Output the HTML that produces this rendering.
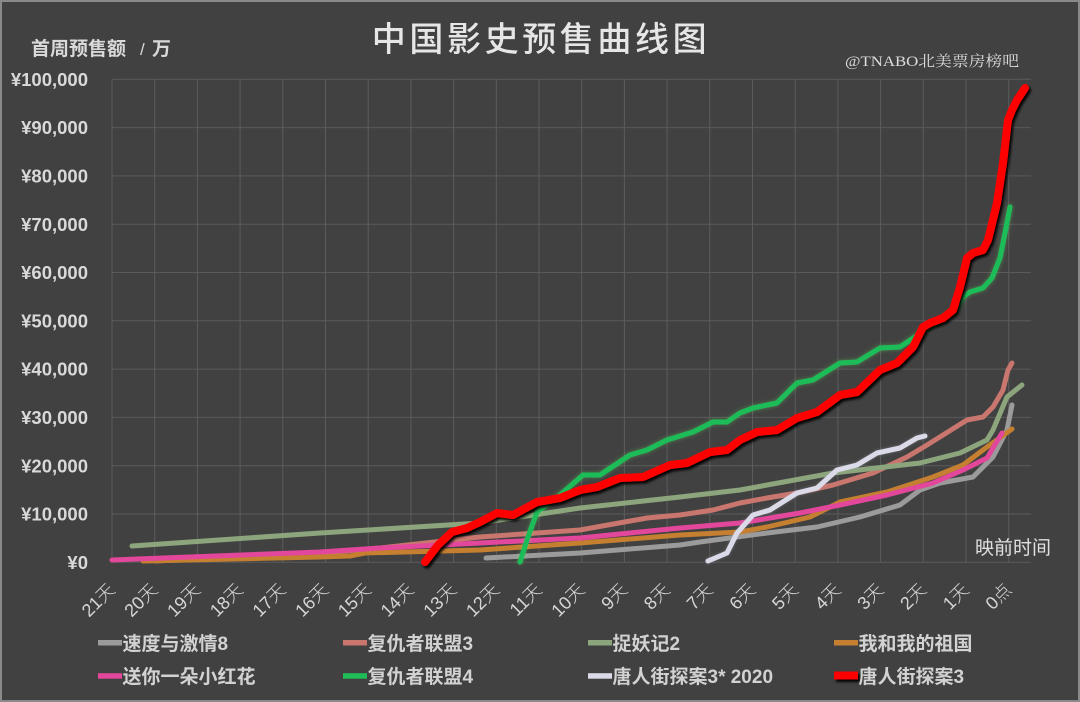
<!DOCTYPE html>
<html>
<head>
<meta charset="utf-8">
<style>
html,body{margin:0;padding:0;background:#414141;}
svg{display:block;}
.yl{font-family:"Liberation Sans","Noto Sans CJK SC",sans-serif;font-weight:bold;font-size:18.5px;fill:#d9d9d9;}
.xl{font-family:"Liberation Sans","Noto Sans CJK SC",sans-serif;font-weight:300;font-size:18px;fill:#d6d6d6;}
.lg{font-family:"Liberation Sans","Noto Sans CJK SC",sans-serif;font-weight:bold;font-size:19px;fill:#d2d2d2;}
</style>
</head>
<body>
<svg width="1080" height="702" viewBox="0 0 1080 702" xmlns="http://www.w3.org/2000/svg">
<defs>
<filter id="rsh" filterUnits="userSpaceOnUse" x="0" y="0" width="1080" height="702">
<feDropShadow dx="2" dy="2.5" stdDeviation="1.3" flood-color="#000" flood-opacity="0.95"/>
</filter>
<filter id="gglow" filterUnits="userSpaceOnUse" x="0" y="0" width="1080" height="702">
<feDropShadow dx="0" dy="0" stdDeviation="2" flood-color="#6f6" flood-opacity="0.35"/>
</filter>
<filter id="wglow" filterUnits="userSpaceOnUse" x="0" y="0" width="1080" height="702">
<feDropShadow dx="0" dy="0" stdDeviation="1.5" flood-color="#aab" flood-opacity="0.4"/>
</filter>
</defs>
<rect x="0" y="0" width="1080" height="702" fill="#414141"/>
<rect x="1" y="1" width="1078" height="700" fill="none" stroke="#8a8a8a" stroke-width="2"/>

<!-- title -->
<text x="541" y="51" text-anchor="middle" font-family="'Liberation Sans','Noto Sans CJK SC',sans-serif" font-size="34" font-weight="500" letter-spacing="3.6" fill="#e6e6e6">中国影史预售曲线图</text>
<text x="31" y="55" font-family="'Liberation Sans','Noto Sans CJK SC',sans-serif" font-size="19" font-weight="bold" fill="#d9d9d9">首周预售额</text>
<text x="140" y="55" font-family="'Liberation Sans','Noto Sans CJK SC',sans-serif" font-size="17" fill="#d9d9d9">/</text>
<text x="152" y="55" font-family="'Liberation Sans','Noto Sans CJK SC',sans-serif" font-size="19" font-weight="bold" fill="#d9d9d9">万</text>
<text x="845" y="66" textLength="174" lengthAdjust="spacingAndGlyphs" font-family="'Liberation Serif','Noto Serif CJK SC',serif" font-size="15" fill="#dcdcdc">@TNABO北美票房榜吧</text>

<!-- gridlines -->
<g stroke="#5a5a5a" stroke-width="1">
<line x1="112" y1="79.3" x2="1031" y2="79.3"/>
<line x1="112" y1="127.6" x2="1031" y2="127.6"/>
<line x1="112" y1="175.9" x2="1031" y2="175.9"/>
<line x1="112" y1="224.2" x2="1031" y2="224.2"/>
<line x1="112" y1="272.5" x2="1031" y2="272.5"/>
<line x1="112" y1="320.8" x2="1031" y2="320.8"/>
<line x1="112" y1="369.1" x2="1031" y2="369.1"/>
<line x1="112" y1="417.4" x2="1031" y2="417.4"/>
<line x1="112" y1="465.7" x2="1031" y2="465.7"/>
<line x1="112" y1="514" x2="1031" y2="514"/>
<line x1="112" y1="562.3" x2="1031" y2="562.3"/>
</g>
<g stroke="#5c5c5c" stroke-width="1">
<line x1="112" y1="79.3" x2="112" y2="562.3"/>
<line x1="154.7" y1="79.3" x2="154.7" y2="562.3"/>
<line x1="197.4" y1="79.3" x2="197.4" y2="562.3"/>
<line x1="240.1" y1="79.3" x2="240.1" y2="562.3"/>
<line x1="282.8" y1="79.3" x2="282.8" y2="562.3"/>
<line x1="325.5" y1="79.3" x2="325.5" y2="562.3"/>
<line x1="368.2" y1="79.3" x2="368.2" y2="562.3"/>
<line x1="410.9" y1="79.3" x2="410.9" y2="562.3"/>
<line x1="453.6" y1="79.3" x2="453.6" y2="562.3"/>
<line x1="496.3" y1="79.3" x2="496.3" y2="562.3"/>
<line x1="539" y1="79.3" x2="539" y2="562.3"/>
<line x1="581.7" y1="79.3" x2="581.7" y2="562.3"/>
<line x1="624.4" y1="79.3" x2="624.4" y2="562.3"/>
<line x1="667.1" y1="79.3" x2="667.1" y2="562.3"/>
<line x1="709.8" y1="79.3" x2="709.8" y2="562.3"/>
<line x1="752.5" y1="79.3" x2="752.5" y2="562.3"/>
<line x1="795.2" y1="79.3" x2="795.2" y2="562.3"/>
<line x1="837.9" y1="79.3" x2="837.9" y2="562.3"/>
<line x1="880.6" y1="79.3" x2="880.6" y2="562.3"/>
<line x1="923.3" y1="79.3" x2="923.3" y2="562.3"/>
<line x1="966" y1="79.3" x2="966" y2="562.3"/>
<line x1="1008.7" y1="79.3" x2="1008.7" y2="562.3"/>
</g>

<!-- y labels -->
<g class="yl" text-anchor="end">
<text x="88" y="85.9">¥100,000</text>
<text x="88" y="134.2">¥90,000</text>
<text x="88" y="182.5">¥80,000</text>
<text x="88" y="230.8">¥70,000</text>
<text x="88" y="279.1">¥60,000</text>
<text x="88" y="327.4">¥50,000</text>
<text x="88" y="375.7">¥40,000</text>
<text x="88" y="424">¥30,000</text>
<text x="88" y="472.3">¥20,000</text>
<text x="88" y="520.6">¥10,000</text>
<text x="88" y="568.9">¥0</text>
</g>

<!-- x labels -->
<g class="xl" text-anchor="end">
<text transform="translate(116,591) rotate(-45)">21天</text>
<text transform="translate(158.7,591) rotate(-45)">20天</text>
<text transform="translate(201.4,591) rotate(-45)">19天</text>
<text transform="translate(244.1,591) rotate(-45)">18天</text>
<text transform="translate(286.8,591) rotate(-45)">17天</text>
<text transform="translate(329.5,591) rotate(-45)">16天</text>
<text transform="translate(372.2,591) rotate(-45)">15天</text>
<text transform="translate(414.9,591) rotate(-45)">14天</text>
<text transform="translate(457.6,591) rotate(-45)">13天</text>
<text transform="translate(500.3,591) rotate(-45)">12天</text>
<text transform="translate(543,591) rotate(-45)">11天</text>
<text transform="translate(585.7,591) rotate(-45)">10天</text>
<text transform="translate(628.4,591) rotate(-45)">9天</text>
<text transform="translate(671.1,591) rotate(-45)">8天</text>
<text transform="translate(713.8,591) rotate(-45)">7天</text>
<text transform="translate(756.5,591) rotate(-45)">6天</text>
<text transform="translate(799.2,591) rotate(-45)">5天</text>
<text transform="translate(841.9,591) rotate(-45)">4天</text>
<text transform="translate(884.6,591) rotate(-45)">3天</text>
<text transform="translate(927.3,591) rotate(-45)">2天</text>
<text transform="translate(970,591) rotate(-45)">1天</text>
<text transform="translate(1012.7,591) rotate(-45)">0点</text>
</g>
<text x="975" y="554" font-family="'Liberation Sans','Noto Sans CJK SC',sans-serif" font-size="19" fill="#e0e0e0">映前时间</text>

<!-- series -->
<g fill="none" stroke-linejoin="round" stroke-linecap="round">
<polyline stroke="#9b9b9b" stroke-width="5" points="486,558 580,553 680,545 700,542 767,533 817,527 860,517 900,505 920,490 940,483 973,477 993,457 1007,430 1012,405"/>
<polyline stroke="#c9766f" stroke-width="5" points="155,561 300,555 380,548 480,537 580,530 647,518 680,515 713,510 740,503 767,498 797,493 833,485 873,473 907,457 927,445 967,420 983,417 993,407 1003,390 1008,370 1012,363"/>
<polyline stroke="#8ca57c" stroke-width="5" points="132,546 320,533 480,523 580,508 680,497 740,490 833,473 920,463 960,453 987,440 993,430 1007,397 1022,385"/>
<polyline stroke="#c47f30" stroke-width="5" points="143,561 320,557 350,556 365,553 480,550 580,543 680,535 740,532 767,527 810,517 840,502 887,492 933,477 963,465 987,447 1012,429"/>
<polyline stroke="#e2479b" stroke-width="5" points="112,560 320,552 380,548 480,543 580,538 680,528 740,523 800,513 840,505 887,495 933,483 963,470 987,458 1002,433"/>
<polyline stroke="#1fbd58" stroke-width="5" filter="url(#gglow)" points="520,562 528,537 537,512 560,495 583,475 600,475 630,455 647,450 667,440 693,432 713,422 727,422 740,413 753,408 777,403 797,383 813,380 840,363 857,362 880,348 900,347 915,337 927,328 937,323 953,313 963,297 970,292 983,288 992,278 1000,258 1005,233 1010,207"/>
<polyline stroke="#dadae8" stroke-width="5" filter="url(#wglow)" points="708,561 727,553 737,533 753,515 770,510 797,493 817,488 837,470 857,465 877,453 900,448 917,438 925,436"/>
<polyline stroke="#ff0000" stroke-width="8" filter="url(#rsh)" points="425,562 438,545 452,532 467,528 480,522 497,513 513,515 537,502 560,498 580,490 597,487 620,478 643,477 670,465 687,463 710,452 727,450 740,440 757,432 777,430 797,418 817,412 840,395 857,392 880,370 897,363 913,347 923,327 930,323 943,318 953,310 960,287 967,258 973,253 983,250 988,240 997,203 1003,163 1008,120 1012,110 1017,100 1025,88"/>
</g>

<!-- legend -->
<rect x="98" y="640" width="24" height="5.5" fill="#9b9b9b"/>
<rect x="343" y="640" width="24" height="5.5" fill="#c9766f"/>
<rect x="588" y="640" width="24" height="5.5" fill="#8ca57c"/>
<rect x="834" y="640" width="24" height="5.5" fill="#c47f30"/>
<rect x="98" y="673.2" width="24" height="5.5" fill="#e2479b"/>
<rect x="343" y="673.2" width="24" height="5.5" fill="#1fbd58"/>
<rect x="588" y="673.2" width="24" height="5.5" fill="#dadae8"/>
<rect x="848" y="672" width="10" height="8" fill="#000" opacity="0.6"/>
<rect x="834" y="671.5" width="24" height="8" fill="#ff0000" filter="url(#rsh)"/>
<g class="lg">
<text x="122.5" y="650">速度与激情8</text>
<text x="367.5" y="650">复仇者联盟3</text>
<text x="612.5" y="650">捉妖记2</text>
<text x="858.5" y="650">我和我的祖国</text>
<text x="122.5" y="683">送你一朵小红花</text>
<text x="367.5" y="683">复仇者联盟4</text>
<text x="612.5" y="683">唐人街探案3* 2020</text>
<text x="858.5" y="683">唐人街探案3</text>
</g>
</svg>
</body>
</html>
